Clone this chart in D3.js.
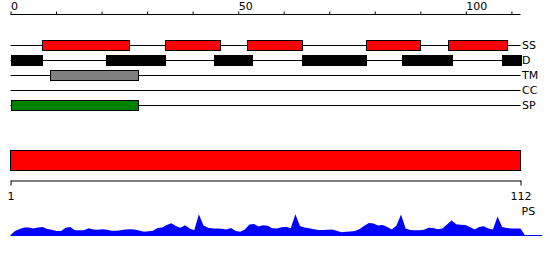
<!DOCTYPE html>
<html>
<head>
<meta charset="utf-8">
<script src="https://cdnjs.cloudflare.com/ajax/libs/d3/7.8.5/d3.min.js"></script>
<style>
  body { margin: 0; background: white; }
  text { font-family: "DejaVu Sans", sans-serif; font-size: 11px; }
</style>
</head>
<body>
<div class="chart"></div>
<script>
// DATA ***********************************************
var trackNames = ["SS", "D", "TM", "CC", "SP"];
var ssSegments = [[7, 26], [34, 46], [52, 64], [78, 90], [96, 109]];
var dSegments = [[0, 7], [21, 34], [44.6, 53], [64, 78], [86, 97], [108, 112]];
var tmSegments = [[8.6, 28]];
var ccSegments = [];
var spSegments = [[0, 28]];
var topTicks = [0, 10, 20, 30, 40, 50, 60, 70, 80, 90, 100, 110];
var topLabels = [0, 50, 100];
var seqRange = [1, 112];
var profileLabel = "PS";
// one value per residue, 1..112, then back to zero
var profile = [0.5, 4.5, 6.5, 8, 8, 7, 8, 8.5, 6.5, 5.7,
        4.5, 4.5, 7.7, 8.5, 5.3, 5.3, 5.3, 7.2, 6, 5.8,
        6.3, 5.8, 4.7, 4.7, 5.3, 6, 6.2, 6, 5, 3.8,
        4.2, 4.7, 7.4, 8, 10.4, 12.2, 9.5, 7.8, 10.2, 7,
        5.3, 21.3, 10, 7.8, 7, 7, 6.7, 6, 7.5, 4.5,
        3.7, 6, 11, 11.5, 9, 10.3, 9.7, 7.3, 7, 8.2,
        8.7, 7.2, 21.3, 9.5, 8, 7.2, 6.2, 5.5, 5.6, 5.8,
        6, 4.8, 3.3, 3.7, 4.1, 4.5, 6.4, 9.7, 12.5, 12.1,
        10, 10.5, 8.5, 6, 10, 21, 7, 5.5, 5.3, 5.3,
        5.8, 7.7, 7.5, 6.3, 7, 11, 15, 11.3, 10.7, 10.6,
        8.5, 6, 8.6, 9.3, 7, 6, 19, 8.4, 7.5, 7,
        7, 7, 0];

var tracks = [ssSegments, dSegments, tmSegments, ccSegments, spSegments];
var trackColors = ["#ff0000", "#000000", "#808080", "#ffffff", "#008000"];

// SETUP ***********************************************
var width = 550;
var height = 260;

var svg = d3.select("div.chart")
        .append("svg")
        .attr("width", width)
        .attr("height", height);

var x = d3.scaleLinear().domain([0, 112]).range([10.5, 520.5]);
var xr = d3.scaleLinear().domain(seqRange).range([10.5, 520.5]);
var yTrack = d3.scalePoint().domain(trackNames).range([45.5, 105.5]);
var yProf = d3.scaleLinear().domain([0, 22]).range([235.5, 213.5]);

// TOP AXIS ***********************************************
var topAxis = svg.append("g")
        .attr("transform", "translate(0,14.5)")
        .call(d3.axisTop(x)
                .tickValues(topTicks)
                .tickSize(3)
                .tickSizeOuter(0)
                .tickPadding(1.5)
                .tickFormat(function (d) {
                        return topLabels.indexOf(d) >= 0 ? d : "";
                }));
topAxis.select(".domain").attr("d", "M" + x(0) + ",0H" + x(112));
topAxis.selectAll("text")
        .attr("text-anchor", "start")
        .attr("fill", "black")
        .style("font-family", "DejaVu Sans")
        .style("font-size", "11px");

// TRACKS ***********************************************
var track = svg.selectAll(".track")
        .data(trackNames)
        .enter()
        .append("g")
        .attr("class", "track")
        .attr("transform", function (d) {
                return "translate(0," + yTrack(d) + ")";
        });

track.append("line")
        .attr("x1", x(0))
        .attr("x2", x(112))
        .attr("stroke", "black")
        .attr("stroke-width", 1);

track.selectAll("rect")
        .data(function (d, i) {
                return tracks[i].map(function (s) { return { s: s, c: trackColors[i] }; });
        })
        .enter()
        .append("rect")
        .attr("x", function (d) { return Math.round(x(d.s[0])) + 0.5; })
        .attr("width", function (d) { return Math.round(x(d.s[1])) - Math.round(x(d.s[0])); })
        .attr("y", -5)
        .attr("height", 10)
        .attr("fill", function (d) { return d.c; })
        .attr("stroke", "black")
        .attr("stroke-width", 1);

track.append("text")
        .attr("x", x(112) + 1.5)
        .attr("y", 0)
        .attr("dominant-baseline", "central")
        .attr("fill", "black")
        .text(function (d) { return d; });

// SEQUENCE BAR ***********************************************
svg.append("rect")
        .attr("x", xr(seqRange[0]))
        .attr("y", 150.5)
        .attr("width", xr(seqRange[1]) - xr(seqRange[0]))
        .attr("height", 20)
        .attr("fill", "#ff0000")
        .attr("stroke", "black")
        .attr("stroke-width", 1);

var bottomAxis = svg.append("g")
        .attr("transform", "translate(0,180.5)")
        .call(d3.axisBottom(xr)
                .tickValues(seqRange)
                .tickSize(5)
                .tickSizeOuter(0)
                .tickPadding(7));
bottomAxis.selectAll("text")
        .attr("fill", "black")
        .style("font-family", "DejaVu Sans")
        .style("font-size", "11px");

svg.append("text")
        .attr("x", 521.5)
        .attr("y", 215)
        .attr("fill", "black")
        .text(profileLabel);

// PROFILE ***********************************************
var area = d3.area()
        .x(function (d, i) { return xr(i + 1); })
        .y0(yProf(0))
        .y1(function (d) { return yProf(d); });

svg.append("path")
        .datum(profile)
        .attr("d", area)
        .attr("fill", "#0000ff");

svg.append("line")
        .attr("x1", xr(1))
        .attr("x2", 542)
        .attr("y1", yProf(0))
        .attr("y2", yProf(0))
        .attr("stroke", "#0000ff")
        .attr("stroke-width", 1);
</script>
</body>
</html>
